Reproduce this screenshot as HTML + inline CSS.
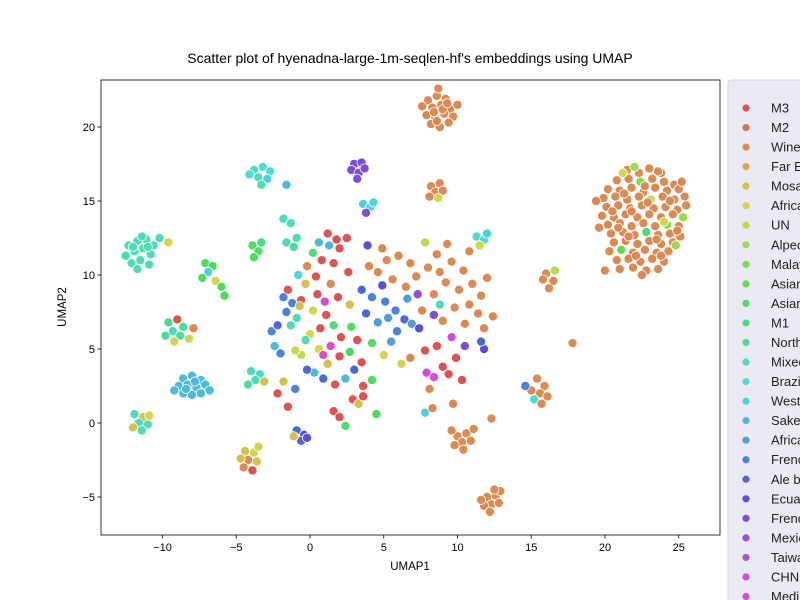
<!DOCTYPE html>
<html><head><meta charset="utf-8"><style>
body{margin:0;background:#fff;font-family:"Liberation Sans",Arial,sans-serif}
svg{display:block}
</style></head><body>
<svg id="chart" width="800" height="600" xmlns="http://www.w3.org/2000/svg"></svg>
<script>
const categories=["M3","M2","Wine","Far East","Mosaic","African","UN","Alpecin","Malay","Asian","Asian","M1","North","Mixed","Brazil","West","Sake","African","French","Ale b","Ecuador","French","Mexican","Taiwan","CHN","Medi"];
const palette=["#e05252","#e07052","#dc8a52","#d9a64c","#d4c04c","#cfd84c","#b8dc4c","#9cdc4c","#80dc4c","#62dc4c","#4ddc5c","#4ddc7a","#4ddc98","#4ddcb6","#4ddcd0","#4dd2dc","#4dbadc","#4d9edc","#4d82dc","#4d66dc","#5a4ddc","#7a4ddc","#984ddc","#b44ddc","#d04ddc","#dc4dc0"];
const xTicks=[-10,-5,0,5,10,15,20,25];
const yTicks=[-5,0,5,10,15,20];
const points=[
[21.5,17.1,2],[22.3,16.9,2],[23.0,17.2,2],[23.8,16.9,2],[20.8,16.4,2],[21.6,16.5,2],[22.4,16.3,8],[23.2,16.5,2],[24.0,16.3,2],[24.7,16.1,2],
[20.2,15.8,2],[21.0,15.7,2],[21.8,15.9,2],[22.6,15.6,2],[23.4,15.9,2],[24.2,15.7,2],[25.0,15.8,2],[19.9,15.2,2],[20.7,15.3,2],[21.5,15.1,2],
[22.3,15.3,2],[23.1,15.1,6],[23.9,15.3,2],[24.7,15.1,2],[25.4,15.3,2],[20.1,14.6,2],[20.9,14.7,2],[21.7,14.5,2],[22.5,14.7,2],[23.3,14.5,2],
[24.1,14.6,2],[24.9,14.4,2],[25.5,14.7,2],[19.8,14.0,2],[20.6,13.9,2],[21.4,14.1,2],[22.2,13.9,2],[23.0,14.1,2],[23.8,13.9,2],[24.6,14.1,2],
[25.3,13.9,7],[20.2,13.4,2],[21.0,13.5,2],[21.8,13.3,2],[22.6,13.5,2],[23.4,13.3,2],[24.2,13.4,8],[25.0,13.3,2],[20.4,12.8,2],[21.2,12.9,2],
[22.0,12.7,2],[22.8,12.9,11],[23.6,12.7,2],[24.4,12.8,2],[25.1,12.6,2],[20.6,12.2,2],[21.4,12.3,2],[22.2,12.1,2],[23.0,12.3,2],[23.8,12.1,2],
[24.6,12.2,2],[20.3,11.6,2],[21.1,11.7,9],[21.9,11.5,2],[22.7,11.7,2],[23.5,11.5,2],[24.3,11.6,2],[20.8,11.0,2],[21.6,11.1,2],[22.4,10.9,2],
[23.2,11.1,2],[24.0,10.9,2],[21.0,10.4,2],[21.9,10.5,2],[22.8,10.3,2],[23.6,10.4,2],[20.0,10.3,2],[24.8,12.0,7],[19.4,15.0,2],[22.0,17.3,7],
[21.2,16.9,5],[23.6,17.0,2],[25.2,16.3,2],[22.5,10.0,2],[19.6,13.2,2],[24.0,13.6,5],[21.8,14.3,2],[22.9,14.9,2],
[20.5,14.3,2],[21.3,15.5,2],[22.7,16.0,2],[24.4,15.0,2],[23.5,12.4,2],[21.6,12.6,2],[20.9,13.2,2],[24.9,13.0,2],[22.1,11.3,2],[23.8,11.3,2],
[8.0,21.8,2],[8.6,22.1,2],[9.2,21.9,2],[8.3,21.3,2],[8.9,21.5,2],[9.5,21.2,2],[7.9,20.8,2],[8.5,20.6,2],[9.1,20.9,2],[9.7,20.7,2],[8.2,20.2,2],[8.8,20.0,2],[9.4,20.3,2],[8.7,22.6,2],[7.6,21.4,2],[10.0,21.5,2],
[8.4,21.0,2],[9.0,21.2,2],[8.6,20.4,2],[9.3,21.6,2],
[8.2,16.0,2],[8.8,16.2,2],[8.5,15.6,2],[9.0,15.7,2],[8.1,15.3,2],[8.7,15.2,5],
[10.0,-0.9,2],[10.6,-0.7,2],[10.3,-1.3,2],[9.8,-1.5,2],[10.9,-1.2,2],[10.4,-1.8,2],[11.1,-0.4,2],[9.6,-0.5,2],
[12.0,-5.0,2],[12.6,-4.9,2],[12.3,-5.5,2],[11.8,-5.6,2],[12.8,-5.4,2],[12.2,-6.0,2],[11.6,-5.2,2],[12.9,-4.6,2],[12.5,-4.5,2],
[16.0,10.1,2],[16.5,9.6,2],[16.2,9.1,2],[15.8,9.7,2],[16.6,10.3,6],
[15.4,3.0,2],[15.9,2.5,2],[15.6,2.0,2],[15.2,1.6,14],[16.1,1.8,2],[15.7,1.3,2],[15.0,2.2,2],[14.6,2.5,18],[17.8,5.4,2],
[-3.8,17.1,13],[-3.2,17.3,14],[-2.7,17.0,14],[-3.5,16.6,13],[-2.9,16.5,15],[-4.1,16.8,14],[-3.3,16.1,13],[-1.6,16.1,16],
[-12.3,12.0,13],[-11.7,12.3,13],[-11.1,12.4,13],[-10.6,12.0,13],[-12.5,11.3,13],[-11.9,11.6,13],[-11.3,11.8,12],[-10.8,11.4,13],[-12.1,10.8,13],[-11.5,11.0,13],[-10.9,10.7,13],[-11.7,10.4,13],[-9.6,12.2,5],[-10.2,12.5,13],
[-11.0,11.9,13],[-12.0,11.9,13],[-11.4,12.6,13],
[-7.1,10.8,10],[-6.6,10.6,10],[-6.9,10.2,15],[-7.3,9.8,10],[-6.4,9.6,5],[-6.0,9.2,10],[-5.8,8.6,10],
[-9.6,6.8,12],[-9.0,7.0,0],[-8.6,6.5,12],[-9.3,6.2,13],[-8.8,5.9,12],[-9.8,5.9,12],[-9.2,5.5,5],[-8.2,5.7,5],[-7.9,6.4,2],
[-8.6,3.0,16],[-8.0,3.2,16],[-7.4,2.9,16],[-8.9,2.5,16],[-8.3,2.6,16],[-7.7,2.4,16],[-7.1,2.6,16],[-8.6,2.0,16],[-8.0,1.9,16],[-7.4,2.0,16],[-9.2,2.2,16],[-6.8,2.2,16],
[-7.8,2.8,16],[-8.4,2.3,16],
[-11.9,0.6,13],[-11.3,0.4,4],[-11.6,0.0,13],[-11.0,-0.1,13],[-12.0,-0.3,4],[-11.4,-0.5,13],[-10.9,0.5,5],
[-4.4,-1.9,4],[-3.8,-2.0,5],[-4.2,-2.5,2],[-3.6,-2.6,4],[-4.5,-3.0,2],[-3.9,-3.2,0],[-3.5,-1.6,5],[-4.7,-2.4,4],
[-4.0,3.5,13],[-3.4,3.3,13],[-3.7,2.9,13],[-3.1,2.8,4],[-4.2,2.6,12],
[-3.9,12.0,10],[-3.5,11.6,10],[-3.8,11.2,10],[-3.3,12.2,11],
[-1.8,13.8,13],[-1.3,13.5,13],[-1.6,12.2,13],[-1.1,11.9,12],[-0.9,12.5,13],
[3.0,17.5,21],[3.5,17.6,21],[2.8,17.1,21],[3.3,16.9,21],[3.7,17.2,21],[3.2,16.5,21],
[3.6,14.8,15],[4.1,14.6,15],[3.8,14.2,21],[4.3,14.9,15],
[11.3,12.6,14],[11.8,12.4,14],[11.5,12.0,5],[12.0,12.8,15],
[-0.9,-0.5,19],[-0.4,-0.8,20],[-0.6,-1.2,19],[-0.2,-1.0,20],[-1.1,-0.9,4],
[1.2,12.8,0],[1.8,12.4,0],[0.6,12.2,16],[1.3,12.0,16],[2.0,11.8,0],[0.2,11.5,11],[2.5,12.5,0],[0.8,11.0,0],[1.6,10.8,0],[-0.2,10.6,2],[2.6,10.2,0],[-0.8,10.0,14],[0.4,9.9,0],[1.4,9.4,2],[-1.5,9.0,0],[-0.3,9.4,4],
[-1.8,8.5,18],[-1.2,8.1,18],[-0.6,8.3,0],[0.5,8.7,0],[1.9,8.5,0],[2.7,8.0,4],[-1.6,7.5,18],[-0.9,7.1,13],[0.2,7.6,5],[1.1,7.3,0],[-1.3,6.6,13],[0.0,6.0,5],[0.7,6.4,0],[1.6,6.6,11],
[2.1,5.8,0],[2.8,6.5,10],[3.2,5.6,0],[1.4,5.2,25],[0.6,5.0,5],[-0.6,4.6,6],[2.0,4.5,0],[2.7,4.8,10],[3.5,4.1,0],[1.2,4.0,4],[0.3,3.4,16],[2.4,3.0,16],[3.0,3.6,19],[1.7,2.6,0],[0.9,3.0,19],[-1.8,2.8,4],[-1.0,2.3,18],[-0.2,3.6,19],[3.6,2.5,0],[4.2,2.9,10],
[2.9,1.6,0],[3.3,1.3,4],[3.6,1.8,0],[1.6,0.8,0],[2.0,0.4,0],[2.4,-0.2,11],[-2.2,2.0,0],[-1.5,1.1,0],[4.5,0.6,10],
[4.0,10.6,2],[4.6,10.2,2],[5.2,11.0,2],[4.9,11.8,2],[6.0,11.3,2],[6.8,10.8,2],[5.6,9.7,2],[6.5,9.2,2],[7.2,9.9,2],[8.0,10.5,2],[8.8,10.2,2],[9.6,10.9,2],[10.4,10.3,2],[9.2,9.5,2],[8.4,8.7,2],[10.1,9.0,2],[11.0,9.4,2],[11.6,8.6,2],[10.8,8.0,2],[9.8,7.8,2],[8.8,8.0,13],[11.4,7.4,2],[12.4,7.2,2],[7.6,7.6,2],[8.4,7.3,21],[9.0,6.9,2],[10.5,6.7,2],[11.8,6.4,2],[9.3,12.1,2],[7.8,12.2,6],[8.6,11.4,2],[10.8,11.6,2],[12.0,9.8,2],
[3.5,9.0,19],[4.2,8.5,18],[5.1,8.2,18],[5.8,7.6,18],[6.4,7.0,19],[5.3,7.1,17],[4.6,6.8,17],[3.8,7.4,19],[6.9,6.7,17],[7.4,6.4,20],[5.9,6.2,18],[4.9,9.3,20],[6.6,8.4,17],[7.3,8.7,22],[3.9,12.0,20],[5.5,5.5,17],[4.2,5.4,10],[5.0,4.6,5],[6.8,4.4,2],[6.2,4.0,5],[7.8,4.9,0],[8.6,5.2,0],
[7.9,3.4,24],[8.4,3.1,24],[9.0,3.8,0],[9.4,3.3,0],[9.9,4.4,0],[10.3,2.9,0],[8.1,2.3,2],[9.6,5.8,24],[10.5,5.2,21],[11.8,5.0,20],[11.6,5.5,19],[7.8,0.7,15],[8.3,1.0,2],[9.7,1.3,2],[12.3,0.3,2],
[-2.4,5.2,16],[-2.0,4.7,18],[-1.0,4.9,5],[-2.6,6.2,18],[-2.2,6.6,19],[-0.3,5.6,13],[0.9,4.6,25],[-0.7,7.9,4],[1.0,8.2,24]
];
const svg=document.getElementById('chart');
const NS='http://www.w3.org/2000/svg';
const L=101,R=720,T=80,B=535;
const X=v=>310+v*14.75;
const Y=v=>423-v*14.8;
function el(tag,attrs,parent){const e=document.createElementNS(NS,tag);for(const k in attrs)e.setAttribute(k,attrs[k]);(parent||svg).appendChild(e);return e;}
const frame=el('rect',{x:L,y:T,width:R-L,height:B-T,fill:'#fff',stroke:'none'});


const gp=el('g',{});


points.forEach(p=>{const c=el('circle',{cx:X(p[0]),cy:Y(p[1]),r:4.6,fill:palette[p[2]],stroke:'#fff','stroke-width':0.8},gp);

});
const border=el('rect',{x:L,y:T,width:R-L,height:B-T,fill:'none',stroke:'#000','stroke-width':0.8});


xTicks.forEach(t=>{const x=X(t);el('line',{x1:x,x2:x,y1:B,y2:B+3.5,stroke:'#000','stroke-width':0.8});
const tx=el('text',{x:x,y:B+16,'text-anchor':'middle','font-size':11,fill:'#000'});tx.textContent=t<0?'\u2212'+(-t):t;

});
yTicks.forEach(t=>{const y=Y(t);el('line',{x1:L-3.5,x2:L,y1:y,y2:y,stroke:'#000','stroke-width':0.8});
const tx=el('text',{x:L-6,y:y+4,'text-anchor':'end','font-size':11,fill:'#000'});tx.textContent=t<0?'\u2212'+(-t):t;

});
const title=el('text',{x:410,y:63,'text-anchor':'middle','font-size':14,fill:'#000'});title.textContent="Scatter plot of hyenadna-large-1m-seqlen-hf's embeddings using UMAP";


const xl=el('text',{x:410,y:570,'text-anchor':'middle','font-size':11.5,fill:'#000'});xl.textContent='UMAP1';


const yl=el('text',{x:66,y:307,'text-anchor':'middle','font-size':11.5,fill:'#000',transform:'rotate(-90 66 307)'});yl.textContent='UMAP2';


const lg=el('g',{});


el('rect',{x:728,y:80,width:90,height:540,rx:3,fill:'#eaeaf2',stroke:'#cccccc','stroke-width':0.8},lg);
categories.forEach((c,i)=>{const y=108+i*19.54;
const g=el('g',{},lg);


el('circle',{cx:746,cy:y,r:3.6,fill:palette[i]},g);
const t=el('text',{x:771,y:y+4.5,'font-size':13,fill:'#222'},g);t.textContent=c;});
</script>
</body></html>
